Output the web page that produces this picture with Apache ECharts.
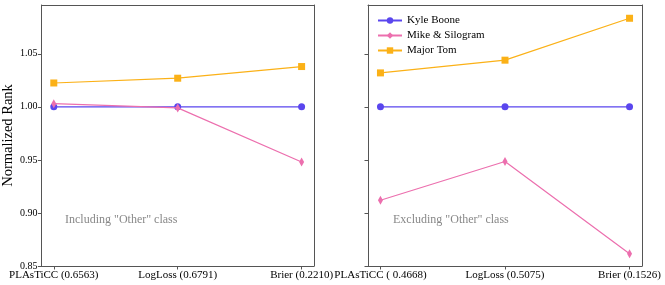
<!DOCTYPE html>
<html><head><meta charset="utf-8">
<script src="https://cdn.jsdelivr.net/npm/echarts@6/dist/echarts.min.js"></script>
<style>html,body{margin:0;padding:0;background:#fff}#c{width:665px;height:285px}</style>
</head><body><div id="c"></div>
<script>
const leftCategories = ['PLAsTiCC (0.6563)', 'LogLoss (0.6791)', 'Brier (0.2210)'];
const rightCategories = ['PLAsTiCC ( 0.4668)', 'LogLoss (0.5075)', 'Brier (0.1526)'];
const seriesNames = ['Kyle Boone', 'Mike & Silogram', 'Major Tom'];
const leftKyle = [1.000, 1.000, 1.000];
const leftMike = [1.003, 0.999, 0.948];
const leftMajor = [1.0225, 1.027, 1.038];
const rightKyle = [1.000, 1.000, 1.000];
const rightMike = [0.912, 0.9485, 0.8615];
const rightMajor = [1.032, 1.044, 1.0835];
const yTicks = [0.85, 0.90, 0.95, 1.00, 1.05];
const panelNotes = ['Including "Other" class', 'Excluding "Other" class'];

const colors = ['#5a46ee', '#ec6fae', '#fbb117'];
const symbols = ['circle', 'diamond', 'rect'];
const symbolSizes = [7, [5, 9], 7];
const font = 'Liberation Serif';
const spine = '#555';

function xAxisFor(idx, cats) {
  return {
    type: 'value', gridIndex: idx, min: -0.1, max: 2.1,
    axisLine: {show: true, onZero: false, lineStyle: {color: spine, width: 1}},
    axisTick: {show: true, customValues: [0, 1, 2], length: 3.5, lineStyle: {color: spine}},
    axisLabel: {show: true, customValues: [0, 1, 2], color: '#000', fontFamily: font, fontSize: 11, margin: 4,
      formatter: v => cats[Math.round(v)]},
    splitLine: {show: false}
  };
}
function xTopFor(idx) {
  return {type: 'value', gridIndex: idx, position: 'top', min: -0.1, max: 2.1,
    axisLine: {show: true, onZero: false, lineStyle: {color: spine}}, axisTick: {show: false}, axisLabel: {show: false}, splitLine: {show: false}};
}
function yAxisFor(idx, showLabels) {
  return {
    type: 'value', gridIndex: idx, min: 0.85, max: 1.096,
    name: showLabels ? 'Normalized Rank' : '', nameLocation: 'middle', nameGap: 23,
    nameTextStyle: {fontFamily: font, fontSize: 14.5, color: '#000'},
    axisLine: {show: true, onZero: false, lineStyle: {color: spine}},
    axisTick: {show: true, customValues: yTicks, length: 3.5, lineStyle: {color: spine}},
    axisLabel: {show: showLabels, customValues: yTicks, color: '#000', fontFamily: font, fontSize: 10, margin: 4,
      formatter: v => v.toFixed(2)},
    splitLine: {show: false}
  };
}
function yRightFor(idx) {
  return {type: 'value', gridIndex: idx, position: 'right', min: 0.85, max: 1.096,
    axisLine: {show: true, onZero: false, lineStyle: {color: spine}}, axisTick: {show: false}, axisLabel: {show: false}, splitLine: {show: false}};
}
function mkSeries(name, i, data, axisIdx) {
  return {
    name: name, type: 'line', xAxisIndex: axisIdx, yAxisIndex: axisIdx,
    data: data.map((v, k) => [k, v]),
    symbol: symbols[i], symbolSize: symbolSizes[i], showSymbol: true,
    lineStyle: {color: colors[i], width: 1.2},
    itemStyle: {color: colors[i]},
    emphasis: {disabled: true}, animation: false, z: 3 + i
  };
}

const chart = echarts.init(document.getElementById('c'), null, {renderer: 'canvas'});
chart.setOption({
  animation: false,
  grid: [
    {left: 40, right: 351, top: 5, bottom: 19},
    {left: 368, right: 23, top: 5, bottom: 19}
  ],
  xAxis: [xAxisFor(0, leftCategories), xAxisFor(1, rightCategories), xTopFor(0), xTopFor(1)],
  yAxis: [yAxisFor(0, true), yAxisFor(1, false), yRightFor(0), yRightFor(1)],
  legend: {
    show: true, left: 377, top: 15, padding: 0, orient: 'vertical', itemGap: 4, itemWidth: 24, itemHeight: 8,
    textStyle: {fontFamily: font, fontSize: 11, color: '#000'},
    data: seriesNames
  },
  graphic: [
    {type: 'text', left: 65, top: 214, style: {text: panelNotes[0], fill: '#888', font: '12px "Liberation Serif"'}},
    {type: 'text', left: 393, top: 214, style: {text: panelNotes[1], fill: '#888', font: '12px "Liberation Serif"'}}
  ],
  series: [
    mkSeries(seriesNames[0], 0, leftKyle, 0),
    mkSeries(seriesNames[1], 1, leftMike, 0),
    mkSeries(seriesNames[2], 2, leftMajor, 0),
    mkSeries(seriesNames[0], 0, rightKyle, 1),
    mkSeries(seriesNames[1], 1, rightMike, 1),
    mkSeries(seriesNames[2], 2, rightMajor, 1)
  ]
});
</script></body></html>
